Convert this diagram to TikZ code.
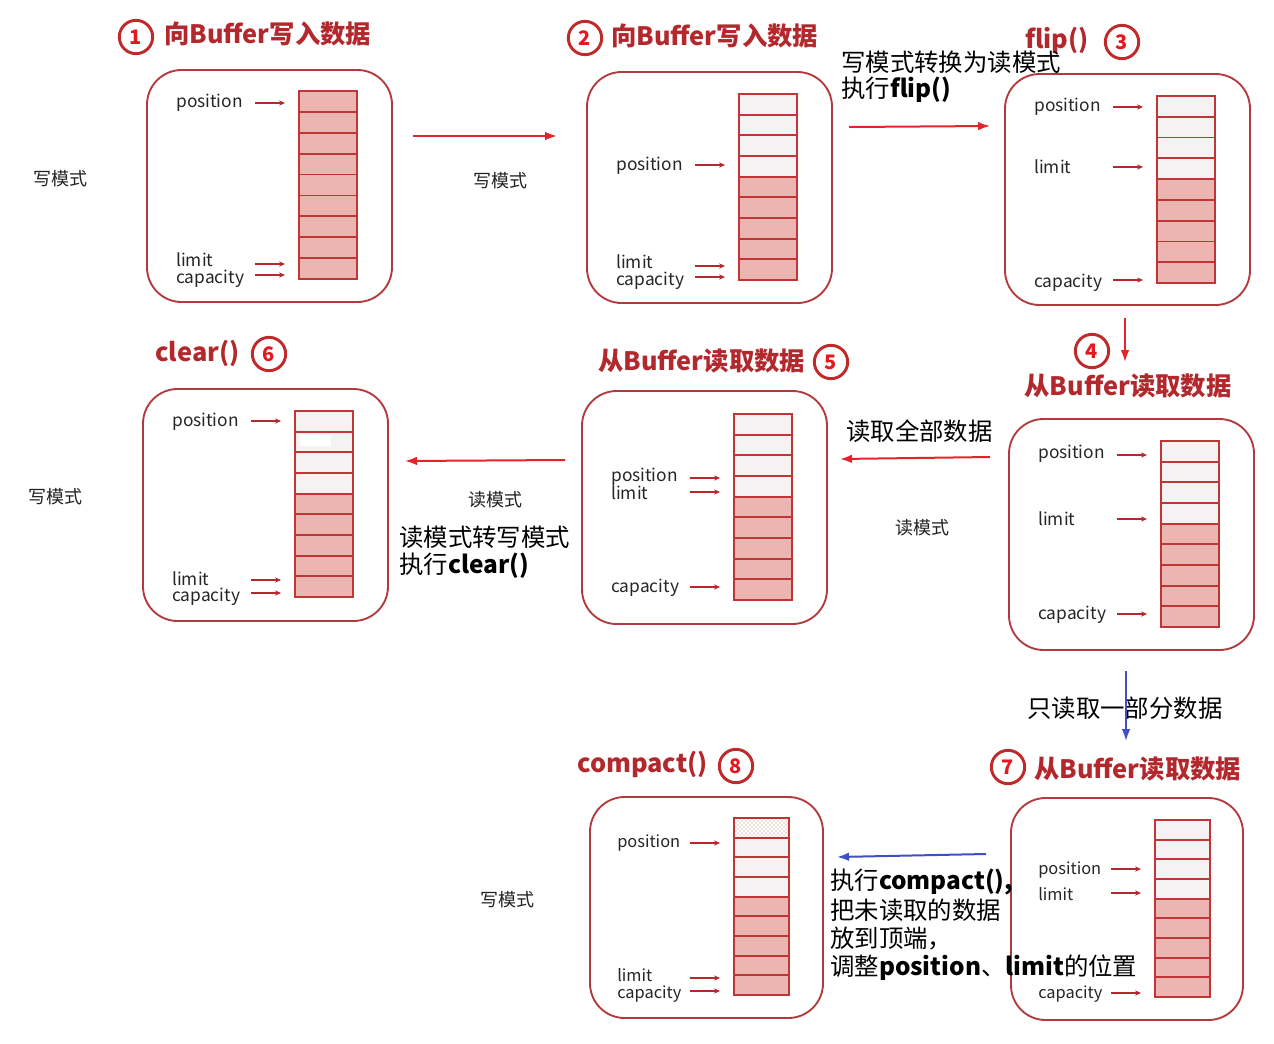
\documentclass[tikz,border=0pt]{standalone}
\usepackage{fontspec}
\setmainfont{Noto Sans CJK SC}
\usetikzlibrary{arrows.meta,fit,patterns}
\definecolor{panelred}{HTML}{B23A3E}
\definecolor{cellred}{HTML}{C03535}
\definecolor{pinkcell}{HTML}{EBB5B1}
\definecolor{lightcell}{HTML}{F4F2F2}
\definecolor{titlered}{HTML}{B3282D}
\definecolor{ringred}{HTML}{C02A2A}
\definecolor{numred}{HTML}{E3191F}
\definecolor{arrowred}{HTML}{E5232B}
\definecolor{ptrred}{HTML}{B7282E}
\definecolor{arrowblue}{HTML}{3F4FC4}
\definecolor{modegray}{HTML}{222222}
\definecolor{dotred}{HTML}{B87878}
\tikzset{
  panel/.style={draw=panelred, line width=1.4pt, rounded corners=26pt, inner sep=0pt},
  cellline/.style={draw=cellred, line width=1.3pt},
  colnode/.style={inner sep=0pt, draw=cellred, line width=1.3pt},
  lab/.style={inner sep=0pt, anchor=west, text=black!85, font=\fontsize{13}{13}\selectfont},
  labs/.style={lab, font=\fontsize{12.3}{12.3}\selectfont},
  ptrarrow/.style={draw=ptrred, line width=1pt, -{Stealth[length=4.5pt,width=4pt]}},
  bigarrow/.style={draw=arrowred, line width=1.5pt, -{Latex[length=9pt,width=6.5pt]}},
  bluearrow/.style={draw=arrowblue, line width=1.5pt, -{Latex[length=9pt,width=6.5pt]}},
  ring/.style={circle, draw=ringred, line width=2.2pt, fill=white, minimum size=25pt, inner sep=0pt, text=numred, font=\bfseries\fontsize{15}{15}\selectfont},
  title/.style={inner sep=0pt, text=titlered, font=\bfseries\fontsize{19}{19}\selectfont},
  mode/.style={inner sep=0pt, text=modegray, font=\fontsize{13.5}{14}\selectfont},
  note/.style={inner sep=0pt, anchor=west, text=black, font=\fontsize{18.3}{19}\selectfont},
}
\newcommand\bufcol[6]{%
  \pgfmathsetmacro\bufhh{(#5-#3)/9}%
  \foreach \i in {0,...,8}{%
    \pgfmathsetmacro\bufya{#3+\i*\bufhh}%
    \pgfmathsetmacro\bufyb{#3+(\i+1)*\bufhh}%
    \ifnum\i<#6\relax
      \fill[lightcell] (#2,\bufya) rectangle (#4,\bufyb);
    \else
      \fill[pinkcell] (#2,\bufya) rectangle (#4,\bufyb);
    \fi
  }%
  \foreach \i in {1,...,8}{%
    \pgfmathsetmacro\bufya{#3+\i*\bufhh}%
    \draw[cellline] (#2,\bufya) -- (#4,\bufya);
  }%
  \node[colnode, fit={(#2,#3)(#4,#5)}] (#1) {};
}
\newcommand\pointer[3]{%
  \coordinate (#1t) at ({#2-44},#3);
  \coordinate (#1h) at ({#2-14},#3);
  \draw[ptrarrow] (#1t) -- (#1h);
}
\begin{document}
\begin{tikzpicture}[x=0.75pt,y=-0.75pt]
\useasboundingbox (0,0) rectangle (1274,1043);
\fill[white] (0,0) rectangle (1274,1043);

% ---------- Panel 1 ----------
\node[ring] (n1) at (136,37) {1};
\node[title, anchor=west] (t1) at (164,34) {向Buffer写入数据};
\node[panel, fit={(147,70)(392,302)}] (P1) {};
\bufcol{c1}{299}{91}{357}{279}{0}
\node[lab] (l1pos) at (176,103) {position};
\node[lab] (l1lim) at (176,260) {limit};
\node[lab] (l1cap) at (176,279) {capacity};
\pointer{a1pos}{299}{103}
\pointer{a1lim}{299}{264}
\pointer{a1cap}{299}{275}

% ---------- Panel 2 ----------
\node[ring] (n2) at (585,38) {2};
\node[title, anchor=west] (t2) at (611,36) {向Buffer写入数据};
\node[panel, fit={(587,72)(832,303)}] (P2) {};
\bufcol{c2}{739}{94}{797}{280}{4}
\node[lab] (l2pos) at (616,166) {position};
\node[lab] (l2lim) at (616,262) {limit};
\node[lab] (l2cap) at (616,281) {capacity};
\pointer{a2pos}{739}{165}
\pointer{a2lim}{739}{266}
\pointer{a2cap}{739}{277}

% ---------- Panel 3 ----------
\node[title, anchor=west] (t3) at (1025,40) {flip()};
\node[ring] (n3) at (1122,42) {3};
\node[panel, fit={(1005,74)(1250,305)}] (P3) {};
\bufcol{c3}{1157}{96}{1215}{283}{4}
\node[lab] (l3pos) at (1034,107) {position};
\node[lab] (l3lim) at (1034,167) {limit};
\node[lab] (l3cap) at (1034,283) {capacity};
\pointer{a3pos}{1157}{107}
\pointer{a3lim}{1157}{167}
\pointer{a3cap}{1157}{280}

% ---------- Panel 4 ----------
\node[ring] (n4) at (1092,351) {4};
\node[title] (t4) at (1128,386) {从Buffer读取数据};
\node[panel, fit={(1009,419)(1254,650)}] (P4) {};
\bufcol{c4}{1161}{441}{1219}{627}{4}
\node[lab] (l4pos) at (1038,454) {position};
\node[lab] (l4lim) at (1038,519) {limit};
\node[lab] (l4cap) at (1038,615) {capacity};
\pointer{a4pos}{1161}{455}
\pointer{a4lim}{1161}{519}
\pointer{a4cap}{1161}{614}

% ---------- Panel 5 ----------
\node[title, anchor=west] (t5) at (598,361) {从Buffer读取数据};
\node[ring] (n5) at (831,362) {5};
\node[panel, fit={(582,391)(827,624)}] (P5) {};
\bufcol{c5}{734}{414}{792}{600}{4}
\node[lab] (l5pos) at (611,477) {position};
\node[lab] (l5lim) at (611,493) {limit};
\node[lab] (l5cap) at (611,588) {capacity};
\pointer{a5pos}{734}{478}
\pointer{a5lim}{734}{492}
\pointer{a5cap}{734}{587}

% ---------- Panel 6 ----------
\node[title, anchor=west] (t6) at (155,353) {clear()};
\node[ring] (n6) at (269,354) {6};
\node[panel, fit={(143,389)(388,621)}] (P6) {};
\bufcol{c6}{295}{411}{353}{597}{4}
\fill[white] (300,435) rectangle (331,446);
\node[lab] (l6pos) at (172,422) {position};
\node[lab] (l6lim) at (172,579) {limit};
\node[lab] (l6cap) at (172,597) {capacity};
\pointer{a6pos}{295}{421}
\pointer{a6lim}{295}{580}
\pointer{a6cap}{295}{593}

% ---------- Panel 7 ----------
\node[ring] (n7) at (1008,767) {7};
\node[title, anchor=west] (t7) at (1034,769) {从Buffer读取数据};
\node[panel, fit={(1011,798)(1243,1020)}] (P7) {};
\bufcol{c7}{1155}{820}{1210}{997}{4}
\node[labs] (l7pos) at (1038,870) {position};
\node[labs] (l7lim) at (1038,894) {limit};
\node[labs] (l7cap) at (1038,994) {capacity};
\pointer{a7pos}{1155}{869}
\pointer{a7lim}{1155}{893}
\pointer{a7cap}{1155}{993}

% ---------- Panel 8 ----------
\node[title, anchor=west] (t8) at (577,764) {compact()};
\node[ring] (n8) at (736,766) {8};
\node[panel, fit={(590,797)(823,1018)}] (P8) {};
\bufcol{c8}{734}{818}{789}{995}{4}
\fill[white] (734,818) rectangle (789,837.7);
\fill[pattern=crosshatch dots, pattern color=dotred] (734,818) rectangle (789,837.7);
\draw[cellline] (734,818) rectangle (789,837.7);
\node[labs] (l8pos) at (617,843) {position};
\node[labs] (l8lim) at (617,975) {limit};
\node[labs] (l8cap) at (617,994) {capacity};
\pointer{a8pos}{734}{843}
\pointer{a8lim}{734}{978}
\pointer{a8cap}{734}{991}

% ---------- mode labels ----------
\node[mode] (m1) at (60,179) {写模式};
\node[mode] (m2) at (500,181) {写模式};
\node[mode] (m3) at (55,497) {写模式};
\node[mode] (m4) at (495,500) {读模式};
\node[mode] (m5) at (922,528) {读模式};
\node[mode] (m6) at (507,900) {写模式};

% ---------- annotations ----------
\node[note] (s1) at (841,62) {写模式转换为读模式};
\node[note] (s2) at (841,90) {执行\textbf{flip()}};
\node[note] (s3) at (846,431) {读取全部数据};
\node[note] (s4) at (399,537) {读模式转写模式};
\node[note] (s5) at (399,566) {执行\textbf{clear()}};
\node[note] (s6) at (1027,708) {只读取一部分数据};
\node[note] (s7) at (830,882) {执行\textbf{compact(),}};
\node[note] (s8) at (830,910) {把未读取的数据};
\node[note] (s9) at (830,939) {放到顶端，};
\node[note] (s10) at (830,968) {调整\textbf{position}、\textbf{limit}的位置};

% ---------- connectors ----------
\coordinate (e12a) at (413,136); \coordinate (e12b) at (557,136);
\coordinate (e23a) at (849,127); \coordinate (e23b) at (990,126);
\coordinate (e34a) at (1125,318); \coordinate (e34b) at (1125,362);
\coordinate (e45a) at (990,457); \coordinate (e45b) at (840,459);
\coordinate (e56a) at (565,460); \coordinate (e56b) at (405,461);
\coordinate (e47a) at (1126,671); \coordinate (e47b) at (1126,741);
\coordinate (e78a) at (986,854); \coordinate (e78b) at (837,857);
\draw[bigarrow] (e12a) -- (e12b);
\draw[bigarrow] (e23a) -- (e23b);
\draw[bigarrow] (e34a) -- (e34b);
\draw[bigarrow] (e45a) -- (e45b);
\draw[bigarrow] (e56a) -- (e56b);
\draw[bluearrow] (e47a) -- (e47b);
\draw[bluearrow] (e78a) -- (e78b);
\end{tikzpicture}
\end{document}
